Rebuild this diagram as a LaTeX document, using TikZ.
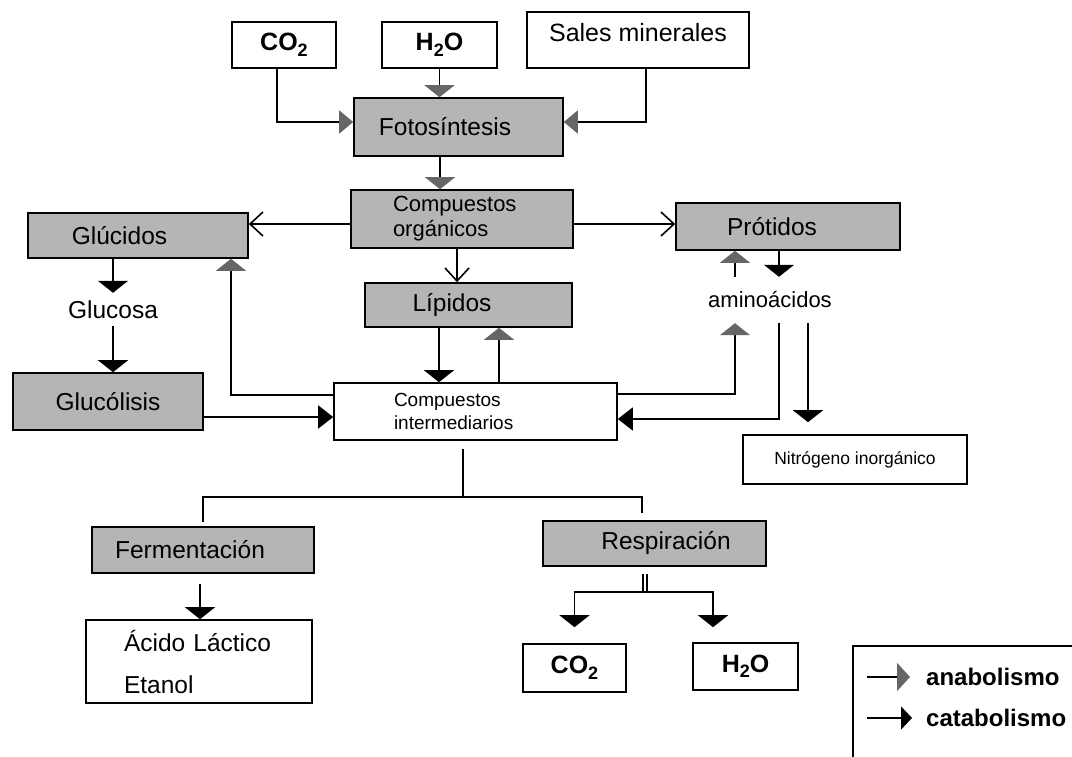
\documentclass[tikz,border=0pt]{standalone}
\usepackage{fontspec}
\setmainfont{Liberation Sans}
\usetikzlibrary{arrows.meta,calc}
\colorlet{boxgray}{black!29}
\colorlet{anagray}{black!60}
\newcommand\shtext[2]{\hspace*{#1}\hspace*{#1}#2}
\newcommand\subtwo{\raisebox{-5.5pt}{\fontsize{18}{18}\selectfont 2}}
\tikzset{
  x=1pt,y=-1pt,
  base/.style={draw=black,line width=1.6pt,inner sep=0pt,rectangle},
  wbox/.style={base,fill=white},
  gbox/.style={base,fill=boxgray},
  fl/.style={font=\fontsize{24.5}{28}\selectfont},
  fb/.style={font=\bfseries\fontsize{25}{28}\selectfont},
  conn/.style={line width=1.6pt},
  catv/.style={conn,-{Triangle[width=30pt,length=12pt]}},
  cath/.style={conn,-{Triangle[width=23pt,length=15pt]}},
  anav/.style={conn,-{Triangle[width=30pt,length=12pt,color=anagray]}},
  anah/.style={conn,-{Triangle[width=23pt,length=14pt,color=anagray]}},
  openar/.style={conn,-{Straight Barb[width=24pt,length=13pt]}},
  legana/.style={conn,-{Triangle[width=28pt,length=13pt,color=anagray]}},
  legcat/.style={conn,-{Triangle[width=23pt,length=11pt]}},
}
\begin{document}
\begin{tikzpicture}
\useasboundingbox (0,0) rectangle (1072,757);
\fill[white] (0,0) rectangle (1072,757);

% top inputs
\node[wbox,fb,minimum width=104pt,minimum height=46pt] (co2a) at (284,45) {CO\subtwo};
\node[wbox,fb,minimum width=115pt,minimum height=46pt] (h2oa) at (439.5,45) {H\subtwo O};
\node[wbox,font=\fontsize{25}{28}\selectfont,minimum width=222pt,minimum height=56pt] (sales) at (638,40) {\raisebox{7pt}[\height][\depth]{Sales minerales}};

% photosynthesis and organic compounds
\node[gbox,fl,minimum width=209pt,minimum height=58pt] (foto) at (458.5,127) {\shtext{-13.5pt}{Fotosíntesis}};
\node[gbox,font=\fontsize{22}{25}\selectfont,minimum width=222pt,minimum height=58pt,
      inner xsep=42pt,text width=138pt,align=left] (corg) at (462,219) {Compuestos\\orgánicos};

\node[gbox,fl,minimum width=220pt,minimum height=45pt] (gluc) at (138,235.5) {\shtext{-18.5pt}{Glúcidos}};
\node[gbox,fl,minimum width=224pt,minimum height=47pt] (prot) at (788,226.5) {\shtext{-16pt}{Prótidos}};
\node[gbox,fl,minimum width=207pt,minimum height=44pt] (lip) at (468.5,305) {\shtext{-16.5pt}{Lípidos}};

\node[fl,minimum height=33pt] (glucosa) at (113,309.5) {Glucosa};
\node[font=\fontsize{22}{25}\selectfont,inner sep=0pt,minimum height=46pt] (amino) at (770,300) {aminoácidos};

\node[gbox,fl,minimum width=190pt,minimum height=57pt] (glyc) at (108,401.5) {Glucólisis};
\node[wbox,font=\fontsize{19}{23}\selectfont,minimum width=283pt,minimum height=57pt,
      inner xsep=60pt,text width=163pt,align=left] (interm) at (475.5,411.5) {Compuestos\\intermediarios};
\node[wbox,font=\fontsize{17.5}{20}\selectfont,minimum width=224pt,minimum height=49pt] (nitro) at (855,459.5) {Nitrógeno inorgánico};

% bottom part
\node[gbox,fl,minimum width=222pt,minimum height=46pt] (ferm) at (203,550) {\shtext{-13pt}{Fermentación}};
\node[gbox,fl,minimum width=223pt,minimum height=45pt] (resp) at (654.5,543.5) {\shtext{11.5pt}{Respiración}};
\node[wbox,font=\fontsize{24.5}{42}\selectfont,minimum width=226pt,minimum height=83pt,
      inner xsep=38pt,text width=150pt,align=left] (acido) at (199,661.5) {Ácido Láctico\\Etanol};
\node[wbox,fb,minimum width=103pt,minimum height=48pt] (co2b) at (574.5,668) {CO\subtwo};
\node[wbox,fb,minimum width=105pt,minimum height=47pt] (h2ob) at (745.5,666.5) {H\subtwo O};

% connectors: top
\draw[anah] ($(co2a.south)+(-7,0)$) |- ($(foto.west)+(0,-5)$);
\draw[anav] (h2oa.south) -- (h2oa.south |- foto.north);
\draw[anah] ($(sales.south)+(8,0)$) |- ($(foto.east)+(0,-5)$);
\draw[anav] ($(foto.south)+(-18.5,0)$) -- ($(corg.north)+(-22,0)$);

% from organic compounds
\draw[openar] ($(corg.west)+(0,5)$) -- ($(gluc.east)+(0,-11.5)$);
\draw[openar] ($(corg.east)+(0,5)$) -- ($(prot.west)+(0,-2.5)$);
\draw[openar] ($(corg.south)+(-5,0)$) -- ($(lip.north)+(-11.5,0)$);

% glucids branch
\draw[catv] ($(gluc.south)+(-25,0)$) -- (glucosa.north);
\draw[catv] (glucosa.south) -- (glucosa.south |- glyc.north);
\draw[cath] ($(glyc.east)+(0,15.5)$) -- ($(interm.west)+(0,5.5)$);
\draw[anav] ($(interm.west)+(0,-16.5)$) -| ($(gluc.south)+(93,0)$);

% lipids
\draw[catv] ($(lip.south)+(-29.5,0)$) -- ($(interm.north)+(-36.5,0)$);
\draw[anav] ($(interm.north)+(23.5,0)$) -- ($(lip.south)+(30.5,0)$);

% proteins / amino acids
\draw[anav] ($(interm.east)+(0,-17.5)$) -| ($(amino.south)+(-35,0)$);
\draw[anav] ($(amino.north)+(-35,0)$) -- ($(prot.south)+(-53,0)$);
\draw[catv] ($(prot.south)+(-9,0)$) -- ($(amino.north)+(9,0)$);
\draw[cath] ($(amino.south)+(9,0)$) |- ($(interm.east)+(0,7.5)$);
\draw[catv,shorten >=12pt] ($(amino.south)+(38,0)$) -- ($(nitro.north)+(-47,0)$);

% tree to fermentation / respiration
\coordinate (split) at (463,497);
\draw[conn,shorten >=8pt] (split) -- (split |- interm.south);
\draw[conn,shorten >=4pt] (split) -| (ferm.north);
\draw[conn,shorten >=7pt] (split) -| ($(resp.north)+(-12.5,0)$);
\draw[catv] ($(ferm.south)+(-3,10)$) -- ($(acido.north)+(1,0)$);

% respiration products
\coordinate (rj) at (645,592);
\draw[conn] ($(resp.south)+(-11.5,7)$) -- ($(resp.south)+(-11.5,26)$);
\draw[conn] ($(resp.south)+(-7.5,7)$) -- ($(resp.south)+(-7.5,26)$);
\draw[catv,shorten >=16pt] (rj) -| (co2b.north);
\draw[catv,shorten >=15pt] (rj) -| ($(h2ob.north)+(-32.5,0)$);

% legend
\draw[line width=1.6pt] (853,757) |- (1072,646);
\node[font=\bfseries\fontsize{24}{28}\selectfont,anchor=west,inner sep=0pt] (lana) at (926,677) {anabolismo};
\node[font=\bfseries\fontsize{24}{28}\selectfont,anchor=west,inner sep=0pt] (lcat) at (926,718) {catabolismo};
\coordinate (la) at (867,677);
\coordinate (lc) at (867,718);
\draw[legana,shorten >=16pt] (la) -- (lana.west);
\draw[legcat,shorten >=14pt] (lc) -- (lcat.west);
\end{tikzpicture}
\end{document}
